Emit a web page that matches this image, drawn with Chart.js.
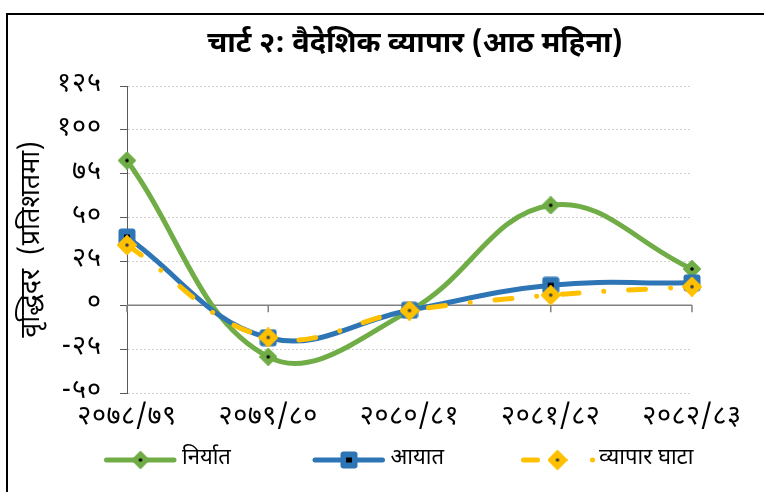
<!DOCTYPE html>
<html>
<head>
<meta charset="utf-8">
<script src="https://cdn.jsdelivr.net/npm/chart.js@4.4.1/dist/chart.umd.min.js"></script>
<style>
    body { margin: 0; background: #fff; }
    #wrap { position: relative; width: 764px; height: 492px; overflow: hidden; }
    #frame { position: absolute; left: 6px; top: 13px; width: 800px; height: 520px;
             border-left: 2px solid #000; border-top: 2px solid #000; pointer-events: none; }
</style>
</head>
<body>
<div id="wrap">
    <canvas id="tradeChart" width="764" height="492"></canvas>
    <div id="frame"></div>
</div>
<script>
// data (growth rate, percent)
const categories = ["२०७८/७९", "२०७९/८०", "२०८०/८१", "२०८१/८२", "२०८२/८३"];
const exportGrowth = [82.5, -29.4, -3.2, 57.0, 20.7];
const importGrowth = [38.9, -18.5, -2.8, 11.4, 12.8];
const deficitGrowth = [34.3, -18.3, -3.0, 5.8, 10.6];
const seriesNames = ["निर्यात", "आयात", "व्यापार घाटा"];
const yTicks = [-50, -25, 0, 25, 50, 75, 100, 125];

const FONT = "'Noto Sans Devanagari', 'Lohit Devanagari', 'FreeSans', 'Noto Sans', sans-serif";
const devDigits = "०१२३४५६७८९";

function toDevanagari(n) {
    return String(n).replace(/[0-9]/g, d => devDigits[d]);
}

function makeMarker(shape, fill, dotColor, size) {
    const c = document.createElement("canvas");
    c.width = size;
    c.height = size;
    const g = c.getContext("2d");
    const h = size / 2;
    g.fillStyle = fill;
    g.strokeStyle = fill;
    g.lineJoin = "round";
    g.lineWidth = 2;
    if (shape === "diamond") {
        g.beginPath();
        g.moveTo(h, 1); g.lineTo(size - 1, h); g.lineTo(h, size - 1); g.lineTo(1, h);
        g.closePath();
        g.fill();
        g.stroke();
        g.fillStyle = dotColor;
        g.beginPath();
        g.arc(h, h, 1.8, 0, Math.PI * 2);
        g.fill();
    } else {
        g.beginPath();
        g.roundRect(0.5, 0.5, size - 1, size - 1, 3);
        g.fill();
        g.fillStyle = dotColor;
        g.fillRect(h - 3, h - 2.5, 6, 5);
    }
    return c;
}

const greenMark = makeMarker("diamond", "#70AD47", "#000", 18);
const blueMark = makeMarker("square", "#2E75B6", "#000", 18);
const yellowMark = makeMarker("diamond", "#FFC000", "#404040", 20);

// the reference digits are spaced out, so widen tick text a bit
const tickSpacing = { x: "0.5px", y: "1px" };
const spacedTicks = {
    id: "spacedTicks",
    afterLayout(chart) {
        Object.keys(tickSpacing).forEach(id => {
            const s = chart.scales[id];
            if (s._spaced) return;
            const orig = s.drawLabels.bind(s);
            s.drawLabels = function (area) {
                const c = this.ctx;
                const prev = c.letterSpacing;
                c.letterSpacing = tickSpacing[id];
                orig(area);
                c.letterSpacing = prev;
            };
            s._spaced = true;
        });
    }
};

// zero line plus the small x tick marks hanging below it
const zeroLine = {
    id: "zeroLine",
    beforeDatasetsDraw(chart) {
        const { ctx, chartArea, scales } = chart;
        const y0 = scales.y.getPixelForValue(0);
        ctx.save();
        ctx.strokeStyle = "#808080";
        ctx.lineWidth = 1.5;
        ctx.beginPath();
        ctx.moveTo(chartArea.left, y0);
        ctx.lineTo(chartArea.right, y0);
        categories.forEach((c, i) => {
            const x = scales.x.getPixelForValue(i);
            ctx.moveTo(x, y0);
            ctx.lineTo(x, y0 + 7);
        });
        ctx.stroke();
        ctx.restore();
    }
};

const titleText = {
    id: "titleText",
    afterDraw(chart) {
        const ctx = chart.ctx;
        ctx.save();
        ctx.fillStyle = "#000";
        ctx.font = "bold 29px " + FONT;
        ctx.textAlign = "center";
        ctx.textBaseline = "middle";
        ctx.fillText("चार्ट २: वैदेशिक व्यापार (आठ महिना)", 415, 47);
        ctx.restore();
    }
};

// excel style legend: line + marker, equal width entries
const lineLegend = {
    id: "lineLegend",
    afterDraw(chart) {
        const ctx = chart.ctx;
        chart.data.datasets.forEach((ds, i) => {
            const x = 104 + i * 208.5;
            const y = 460;
            ctx.save();
            ctx.strokeStyle = ds.borderColor;
            ctx.lineWidth = 5;
            ctx.lineCap = "round";
            ctx.setLineDash(ds.legendDash || []);
            ctx.beginPath();
            ctx.moveTo(x + 2.5, y);
            ctx.lineTo(x + (ds.legendDash ? 75 : 70), y);
            ctx.stroke();
            ctx.setLineDash([]);
            const m = ds.pointStyle;
            ctx.drawImage(m, x + 36.5 - m.width / 2, y - m.height / 2);
            ctx.fillStyle = "#000";
            ctx.font = "22px " + FONT;
            ctx.textBaseline = "middle";
            ctx.fillText(ds.label, x + 78, y);
            ctx.restore();
        });
    }
};

const ctx = document.getElementById("tradeChart");

const chart = new Chart(ctx, {
    type: "line",
    data: {
        labels: categories,
        datasets: [{
            label: seriesNames[0],
            data: exportGrowth,
            borderColor: "#70AD47",
            borderWidth: 5,
            pointStyle: greenMark,
            order: 3,
        }, {
            label: seriesNames[1],
            data: importGrowth,
            borderColor: "#2E75B6",
            borderWidth: 5,
            pointStyle: blueMark,
            order: 2,
        }, {
            label: seriesNames[2],
            data: deficitGrowth,
            borderColor: "#FFC000",
            borderWidth: 5,
            borderDash: [17, 25, 0.01, 25],
            borderCapStyle: "round",
            legendDash: [14, 55, 0.01, 100],
            pointStyle: yellowMark,
            order: 1,
        }],
    },
    options: {
        responsive: false,
        animation: false,
        layout: { padding: { left: 14, right: 72, top: 86, bottom: 59 } },
        elements: {
            line: { tension: 0.4, fill: false },
            point: { radius: 9, hoverRadius: 9 },
        },
        datasets: { line: { clip: false } },
        plugins: {
            legend: { display: false },
            title: { display: false },
            tooltip: { enabled: false },
        },
        scales: {
            x: {
                offset: false,
                grid: { display: false },
                border: { display: false },
                ticks: {
                    color: "#000",
                    padding: 2,
                    maxRotation: 0,
                    autoSkip: false,
                    font: { family: FONT, size: 27 },
                },
                afterFit(scale) { scale.height = 40; },
            },
            y: {
                min: -50,
                max: 125,
                afterBuildTicks(scale) {
                    scale.ticks = yTicks.map(v => ({ value: v }));
                },
                grid: {
                    color: "#D0D0D0",
                    tickColor: "#595959",
                    tickLength: 7,
                },
                border: { display: true, color: "#595959", width: 1, dash: [2, 2] },
                ticks: {
                    color: "#000",
                    padding: 18,
                    font: { family: FONT, size: 27 },
                    callback: v => toDevanagari(v),
                },
                title: {
                    display: true,
                    text: "वृद्धिदर  (प्रतिशतमा)",
                    color: "#000",
                    font: { family: FONT, size: 27 },
                    padding: { top: 4, bottom: 0 },
                },
                afterFit(scale) { scale.width = 113; },
            },
        },
    },
    plugins: [spacedTicks, zeroLine, titleText, lineLegend],
});
</script>
</body>
</html>
